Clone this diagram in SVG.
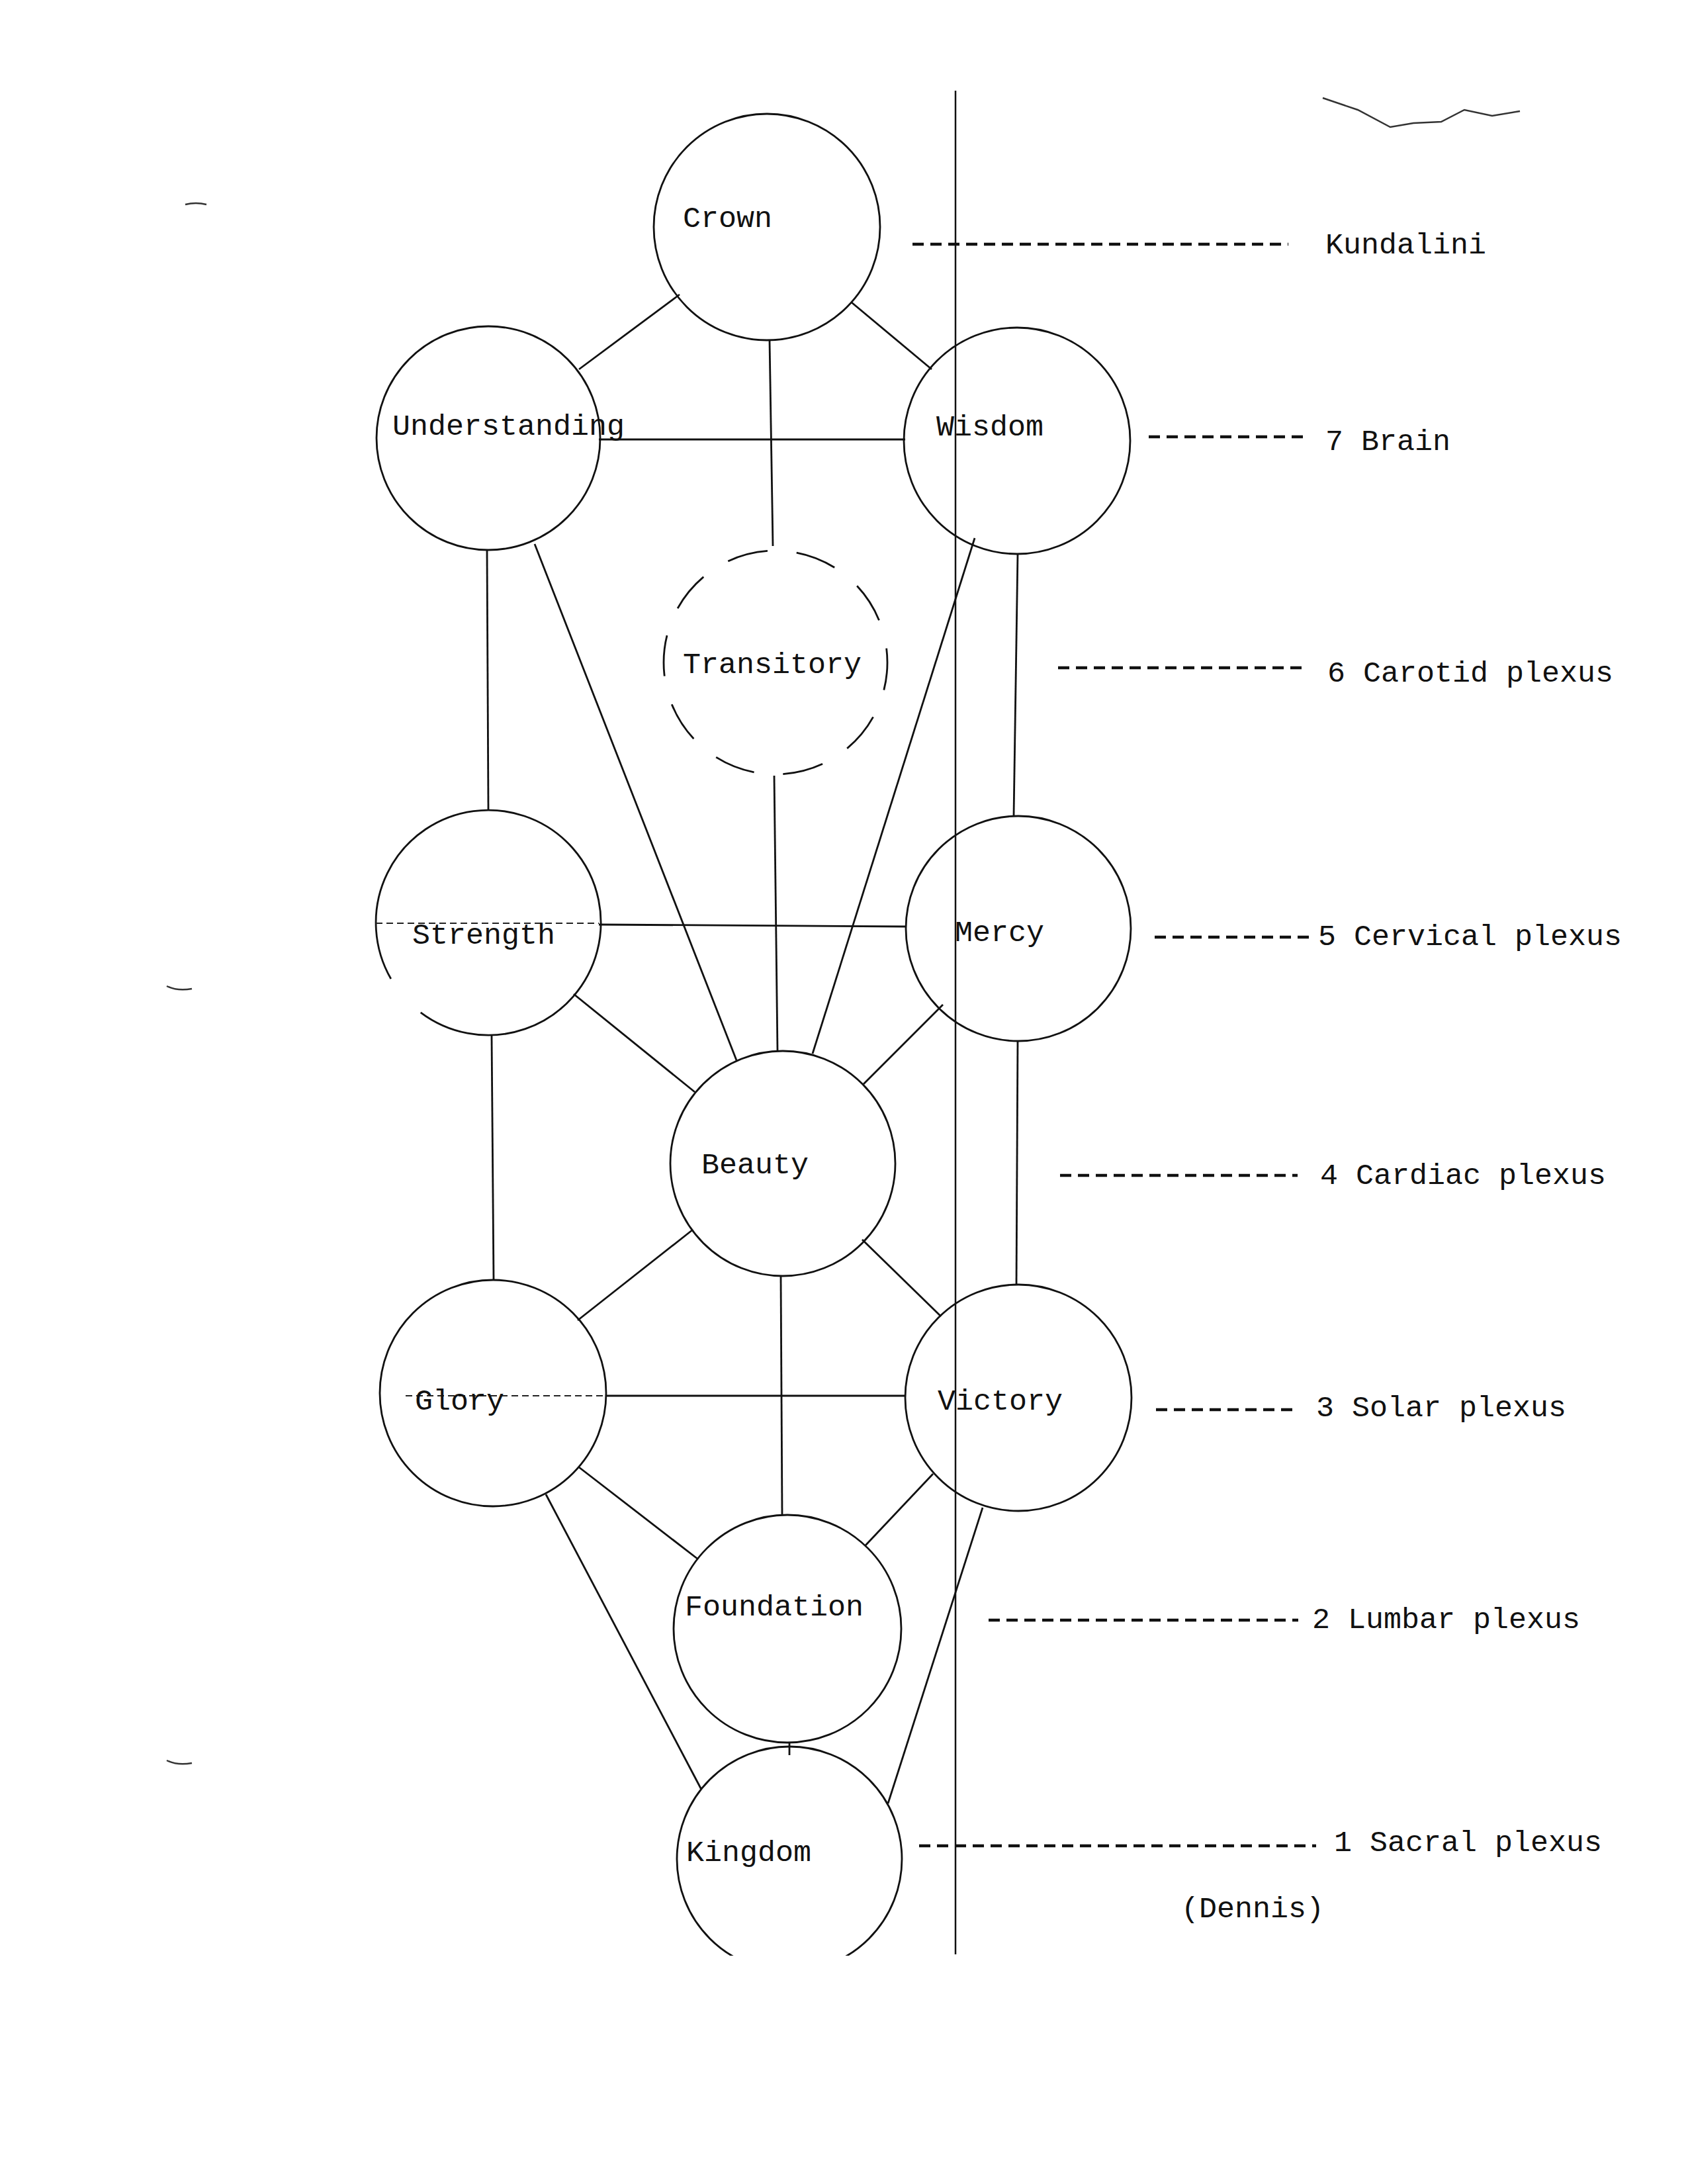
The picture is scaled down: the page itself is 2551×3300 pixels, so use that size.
<svg xmlns="http://www.w3.org/2000/svg" width="2551" height="3300" viewBox="0 0 2551 3300">
<style>
.node circle, .node path { fill: none; stroke: #111; stroke-width: 2.8; }
.lbl { font-family: "Liberation Mono", "Courier New", monospace; font-size: 45px; fill: #111; }
.conn line { stroke: #111; stroke-width: 2.8; }
.leader line { stroke: #111; stroke-width: 4.5; stroke-dasharray: 17 10; }
.faint { stroke: #222; stroke-width: 2; stroke-dasharray: 10 6; fill: none; }
.mark { fill: none; stroke: #333; stroke-width: 2.5; }
</style>
<defs>
<clipPath id="pageclip"><rect x="0" y="0" width="2551" height="2955"/></clipPath>
</defs>
<rect x="0" y="0" width="2551" height="3300" fill="#ffffff"/>

<!-- margin marks -->
<path class="mark" d="M280 309 Q296 305 312 309"/>
<path class="mark" d="M252 1490 Q268 1498 290 1494"/>
<path class="mark" d="M252 2660 Q268 2668 290 2664"/>
<!-- scribble top right -->
<path class="mark" d="M1999 148 L2052 166 L2101 192 L2136 186 L2178 184 L2213 166 L2255 175 L2297 168"/>

<!-- vertical reference line -->
<line x1="1444" y1="137" x2="1444" y2="2953" stroke="#111" stroke-width="2.5"/>

<g id="connectors" class="conn">
<line x1="1027" y1="445" x2="875" y2="558"/>
<line x1="1287" y1="457" x2="1408" y2="558"/>
<line x1="1163" y1="514" x2="1168" y2="825"/>
<line x1="905" y1="664" x2="1368" y2="664"/>
<line x1="736" y1="832" x2="738" y2="1223"/>
<line x1="808" y1="822" x2="1113" y2="1602"/>
<line x1="1473" y1="813" x2="1228" y2="1592"/>
<line x1="1538" y1="837" x2="1532" y2="1233"/>
<line x1="1170" y1="1172" x2="1175" y2="1588"/>
<line x1="905" y1="1397" x2="1368" y2="1400"/>
<line x1="867" y1="1502" x2="1050" y2="1650"/>
<line x1="1425" y1="1518" x2="1305" y2="1638"/>
<line x1="743" y1="1565" x2="746" y2="1933"/>
<line x1="1538" y1="1572" x2="1536" y2="1942"/>
<line x1="1047" y1="1858" x2="873" y2="1995"/>
<line x1="1303" y1="1873" x2="1422" y2="1989"/>
<line x1="1180" y1="1928" x2="1182" y2="2289"/>
<line x1="915" y1="2109" x2="1368" y2="2109"/>
<line x1="875" y1="2217" x2="1055" y2="2356"/>
<line x1="1410" y1="2227" x2="1308" y2="2335"/>
<line x1="825" y1="2258" x2="1060" y2="2704"/>
<line x1="1485" y1="2278" x2="1342" y2="2725"/>
<line x1="1193" y1="2633" x2="1193" y2="2652"/>
</g>

<g id="node-crown" class="node">
<circle cx="1159" cy="343" r="171"/>
<text class="lbl" x="1032" y="343">Crown</text>
</g>
<g id="node-understanding" class="node">
<circle cx="738" cy="662" r="169"/>
<text class="lbl" x="593" y="657">Understanding</text>
</g>
<g id="node-wisdom" class="node">
<circle cx="1537" cy="666" r="171"/>
<text class="lbl" x="1415" y="658">Wisdom</text>
</g>
<g id="node-transitory" class="node">
<circle cx="1172" cy="1001" r="169" stroke-dasharray="62 44" stroke-dashoffset="20"/>
<text class="lbl" x="1032" y="1017">Transitory</text>
</g>
<g id="node-strength" class="node">
<path d="M590.8 1479 A170 170 0 1 1 635.7 1529.8"/>
<line class="faint" x1="568" y1="1395" x2="905" y2="1395"/>
<text class="lbl" x="623" y="1426">Strength</text>
</g>
<g id="node-mercy" class="node">
<circle cx="1539" cy="1403" r="170"/>
<text class="lbl" x="1443" y="1422">Mercy</text>
</g>
<g id="node-beauty" class="node">
<circle cx="1183" cy="1758" r="170"/>
<text class="lbl" x="1060" y="1773">Beauty</text>
</g>
<g id="node-glory" class="node">
<circle cx="745" cy="2105" r="171"/>
<line class="faint" x1="613" y1="2109" x2="915" y2="2109"/>
<text class="lbl" x="627" y="2130">Glory</text>
</g>
<g id="node-victory" class="node">
<circle cx="1539" cy="2112" r="171"/>
<text class="lbl" x="1417" y="2130">Victory</text>
</g>
<g id="node-foundation" class="node">
<circle cx="1190" cy="2461" r="172"/>
<text class="lbl" x="1035" y="2441">Foundation</text>
</g>
<g id="node-kingdom" class="node">
<circle cx="1193" cy="2809" r="170" clip-path="url(#pageclip)"/>
<text class="lbl" x="1037" y="2812">Kingdom</text>
</g>

<g id="leaders" class="leader">
<line x1="1379" y1="369" x2="1947" y2="369"/>
<line x1="1736" y1="660" x2="1975" y2="660"/>
<line x1="1599" y1="1009" x2="1975" y2="1009"/>
<line x1="1745" y1="1416" x2="1985" y2="1416"/>
<line x1="1602" y1="1776" x2="1961" y2="1776"/>
<line x1="1747" y1="2130" x2="1957" y2="2130"/>
<line x1="1494" y1="2448" x2="1962" y2="2448"/>
<line x1="1389" y1="2789" x2="1989" y2="2789"/>
</g>

<g id="labels">
<text class="lbl" x="2003" y="383">Kundalini</text>
<text class="lbl" x="2003" y="680">7 Brain</text>
<text class="lbl" x="2006" y="1030">6 Carotid plexus</text>
<text class="lbl" x="1992" y="1428">5 Cervical plexus</text>
<text class="lbl" x="1995" y="1789">4 Cardiac plexus</text>
<text class="lbl" x="1989" y="2140">3 Solar plexus</text>
<text class="lbl" x="1983" y="2460">2 Lumbar plexus</text>
<text class="lbl" x="2016" y="2797">1 Sacral plexus</text>
<text class="lbl" x="1785" y="2897">(Dennis)</text>
</g>
</svg>
